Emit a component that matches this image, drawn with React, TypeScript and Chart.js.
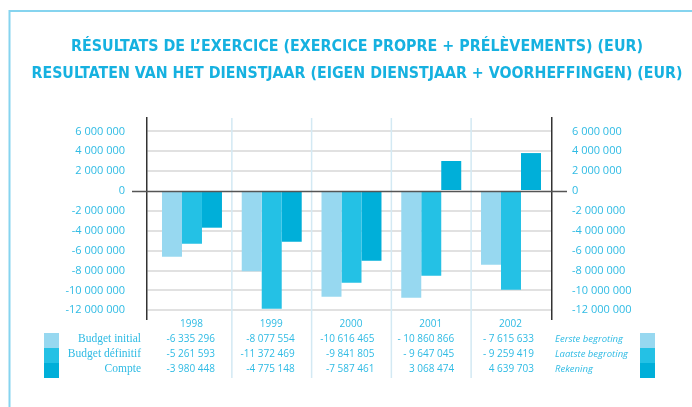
import React, { useEffect, useRef } from 'react';
import { Chart, registerables } from 'chart.js';

Chart.register(...registerables);

// ---- data ----
const years = ['1998', '1999', '2000', '2001', '2002'];
// bar heights as drawn in the picture
const budgetInitial = [-6610000, -8080000, -10640000, -10740000, -7420000];
const budgetDefinitif = [-5300000, -11840000, -9230000, -8520000, -9930000];
const compte = [-3690000, -5100000, -7010000, 3020000, 3820000];
// table figures as printed
const tableInitial = ['-6 335 296', '-8 077 554', '-10 616 465', '- 10 860 866', '- 7 615 633'];
const tableDefinitif = ['-5 261 593', '-11 372 469', '-9 841 805', '- 9 647 045', '- 9 259 419'];
const tableCompte = ['-3 980 448', '-4 775 148', '-7 587 461', '3 068 474', '4 639 703'];
const rowLabelsFr = ['Budget initial', 'Budget définitif', 'Compte'];
const rowLabelsNl = ['Eerste begroting', 'Laatste begroting', 'Rekening'];
const tickValues = [6000000, 4000000, 2000000, 0, -2000000, -4000000, -6000000, -8000000, -10000000, -12000000];
const titleLines = [
  'RÉSULTATS DE L’EXERCICE (EXERCICE PROPRE + PRÉLÈVEMENTS) (EUR)',
  'RESULTATEN VAN HET DIENSTJAAR (EIGEN DIENSTJAAR + VOORHEFFINGEN) (EUR)',
];
const colors = ['#97d8f0', '#24c1e5', '#00afd9'];

const TEXT_BLUE = '#2fbbe4';
const TITLE_BLUE = '#16b1e0';

function fmt(v: number): string {
  const s = Math.abs(v).toString().replace(/\B(?=(\d{3})+(?!\d))/g, ' ');
  return (v < 0 ? '-' : '') + s;
}

const toPoints = (arr: number[]) => arr.map((v, i) => ({ x: i, y: v }));

const decorPlugin = {
  id: 'decor',
  beforeDraw(chart: any) {
    const ctx = chart.ctx;
    ctx.save();
    // frame
    ctx.strokeStyle = '#86d4ef';
    ctx.lineWidth = 2;
    ctx.beginPath();
    ctx.moveTo(9.5, 407);
    ctx.lineTo(9.5, 11);
    ctx.lineTo(692, 11);
    ctx.stroke();
    // title
    ctx.fillStyle = TITLE_BLUE;
    ctx.textAlign = 'center';
    ctx.textBaseline = 'alphabetic';
    const targets = [572, 651];
    const ys = [51, 78.3];
    titleLines.forEach((t, i) => {
      ctx.font = 'bold 16px "DejaVu Sans Condensed", "Liberation Sans Narrow", "DejaVu Sans", sans-serif';
      const w = ctx.measureText(t).width;
      const k = targets[i] / w;
      ctx.save();
      ctx.translate(357, ys[i]);
      ctx.scale(k, 1);
      ctx.fillText(t, 0, 0);
      ctx.restore();
    });
    ctx.restore();
  },
  beforeDatasetsDraw(chart: any) {
    const ctx = chart.ctx;
    const xs = chart.scales.x;
    const area = chart.chartArea;
    ctx.save();
    ctx.strokeStyle = '#d3e9f3';
    ctx.lineWidth = 1.5;
    for (let i = 1; i < years.length; i++) {
      const x = xs.getPixelForValue(i - 0.5);
      ctx.beginPath();
      ctx.moveTo(x, area.top);
      ctx.lineTo(x, 378);
      ctx.stroke();
    }
    ctx.restore();
  },
  afterDatasetsDraw(chart: any) {
    const ctx = chart.ctx;
    const ys = chart.scales.y;
    const y0 = Math.round(ys.getPixelForValue(0)) + 0.5;
    ctx.save();
    ctx.strokeStyle = '#555';
    ctx.lineWidth = 1.5;
    ctx.beginPath();
    ctx.moveTo(132, y0);
    ctx.lineTo(567, y0);
    ctx.stroke();
    ctx.restore();
  },
  afterDraw(chart: any) {
    const ctx = chart.ctx;
    const xs = chart.scales.x;
    ctx.save();
    ctx.textBaseline = 'middle';
    ctx.fillStyle = TEXT_BLUE;
    ctx.font = '10px "Open Sans", sans-serif';
    // years
    ctx.textAlign = 'center';
    years.forEach((y, i) => ctx.fillText(y, xs.getPixelForValue(i) - 0.5, 324));
    // values
    const rows = [tableInitial, tableDefinitif, tableCompte];
    const rowY = [339, 354, 369];
    ctx.textAlign = 'right';
    rows.forEach((r, ri) => {
      r.forEach((v, i) => ctx.fillText(v, xs.getPixelForValue(i) + 23, rowY[ri]));
    });
    // left labels
    ctx.font = '11.5px "Liberation Serif", serif';
    ctx.textAlign = 'right';
    rowLabelsFr.forEach((l, i) => ctx.fillText(l, 141, rowY[i]));
    // right labels
    ctx.font = 'italic 9.5px "Open Sans", sans-serif';
    ctx.textAlign = 'left';
    rowLabelsNl.forEach((l, i) => ctx.fillText(l, 555, rowY[i]));
    // swatches
    colors.forEach((c, i) => {
      ctx.fillStyle = c;
      ctx.fillRect(44, 333 + i * 15, 15, 15);
      ctx.fillRect(640, 333 + i * 15, 15, 15);
    });
    ctx.restore();
  },
};

export default function App() {
  const ref = useRef<HTMLCanvasElement | null>(null);
  useEffect(() => {
    if (!ref.current) return;
    const tickFont = { family: '"Open Sans", sans-serif', size: 11 };
    const yCommon = {
      min: -12880000,
      max: 7350000,
      afterBuildTicks: (s: any) => {
        s.ticks = tickValues.map((v) => ({ value: v }));
      },
    };
    const chart = new Chart(ref.current, {
      type: 'bar',
      data: {
        datasets: [
          { label: 'Budget initial', data: toPoints(budgetInitial), backgroundColor: colors[0] },
          { label: 'Budget définitif', data: toPoints(budgetDefinitif), backgroundColor: colors[1] },
          { label: 'Compte', data: toPoints(compte), backgroundColor: colors[2] },
        ],
      },
      options: {
        responsive: false,
        animation: false,
        devicePixelRatio: 1,
        layout: { padding: { top: 118, bottom: 88, left: 0, right: 0 } },
        datasets: { bar: { barPercentage: 1, categoryPercentage: 0.752 } },
        plugins: { legend: { display: false }, tooltip: { enabled: false }, title: { display: false } },
        scales: {
          x: { type: 'linear', display: false, offset: false, min: -0.564, max: 4.514 },
          y: {
            ...yCommon,
            position: 'left',
            afterFit: (s: any) => {
              s.width = 147;
            },
            ticks: { color: TEXT_BLUE, font: tickFont, padding: 22, callback: (v: any) => fmt(Number(v)) },
            grid: {
              drawTicks: false,
              lineWidth: 2,
              color: (c: any) => (c.tick && c.tick.value === 0 ? 'rgba(0,0,0,0)' : '#e1e1e1'),
            },
            border: { display: true, color: '#333', width: 1.5 },
          },
          y2: {
            ...yCommon,
            position: 'right',
            afterFit: (s: any) => {
              s.width = 140;
            },
            ticks: { color: TEXT_BLUE, font: tickFont, padding: 20, callback: (v: any) => fmt(Number(v)) },
            grid: { drawOnChartArea: false, drawTicks: false },
            border: { display: true, color: '#333', width: 1.5 },
          },
        },
      } as any,
      plugins: [decorPlugin],
    });
    return () => chart.destroy();
  }, []);
  return (
    <div style={{ position: 'absolute', left: 0, top: 0, width: 692, height: 407, background: '#fff' }}>
      <canvas ref={ref} width={692} height={407} style={{ display: 'block' }} />
    </div>
  );
}
